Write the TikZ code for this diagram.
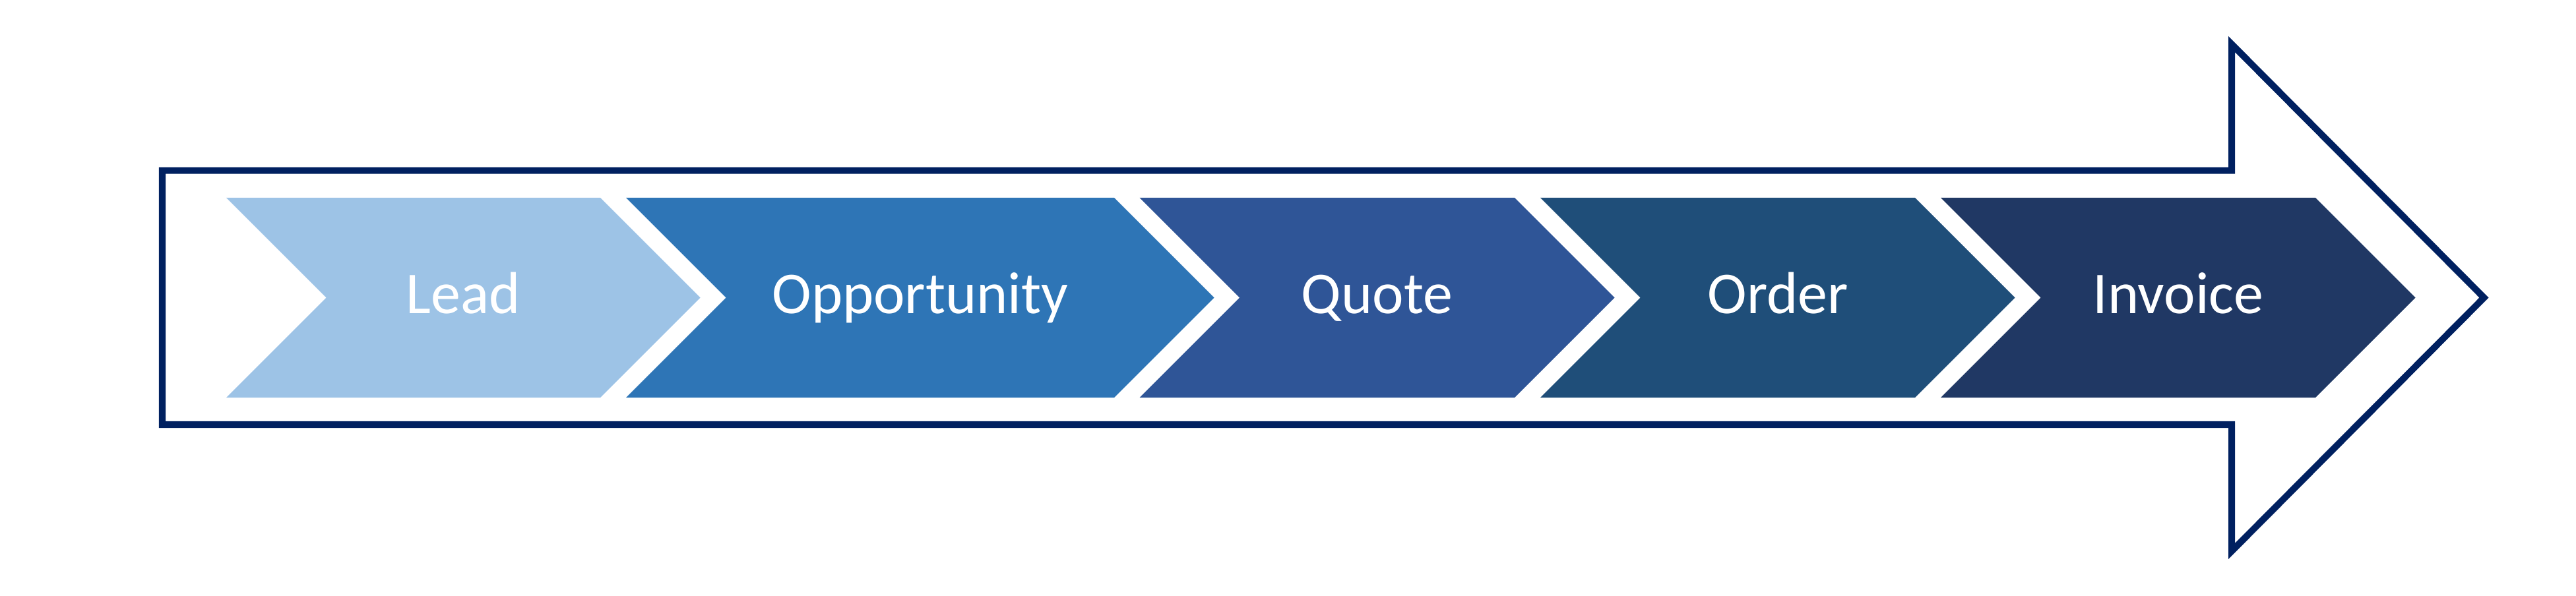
\documentclass[tikz,border=0pt]{standalone}
\usepackage{fontspec}
\setmainfont{Carlito}
\usepackage{tikz}
\usetikzlibrary{backgrounds}

\definecolor{framenavy}{HTML}{002060}
\definecolor{leadblue}{HTML}{9DC3E6}
\definecolor{oppblue}{HTML}{2E75B6}
\definecolor{quoteblue}{HTML}{2F5597}
\definecolor{orderblue}{HTML}{1F4E79}
\definecolor{invoiceblue}{HTML}{203864}

\tikzset{
  stagetext/.style={text=white, anchor=base, inner sep=0pt,
    font=\fontsize{25.6}{31}\selectfont},
  bigarrow/.style={draw=framenavy, line width=2.85pt, miter limit=10}
}

\begin{document}
\begin{tikzpicture}
   \useasboundingbox (0,0) rectangle (39.05,9.03);

   % outer process arrow
   \draw[bigarrow] (2.46,6.443) -- (33.83,6.443) -- (33.83,8.36)
        -- (37.655,4.515) -- (33.83,0.67) -- (33.83,2.59)
        -- (2.46,2.59) -- cycle;

   % stages
   \fill[leadblue] (3.43,6.03) -- (9.10,6.03) -- ++(1.515,-1.515)
        -- (9.10,3.00) -- (3.43,3.00) -- ++(1.515,1.515) -- cycle;
   \node[stagetext] (lead) at (7.02,4.28) {Lead};

   \fill[oppblue] (9.49,6.03) -- (16.89,6.03) -- ++(1.515,-1.515)
        -- (16.89,3.00) -- (9.49,3.00) -- ++(1.515,1.515) -- cycle;
   \node[stagetext] (opp) at (13.95,4.28) {Opportunity};

   \fill[quoteblue] (17.275,6.03) -- (22.96,6.03) -- ++(1.515,-1.515)
        -- (22.96,3.00) -- (17.275,3.00) -- ++(1.515,1.515) -- cycle;
   \node[stagetext] (quote) at (20.875,4.28) {Quote};

   \fill[orderblue] (23.35,6.03) -- (29.03,6.03) -- ++(1.515,-1.515)
        -- (29.03,3.00) -- (23.35,3.00) -- ++(1.515,1.515) -- cycle;
   \node[stagetext] (order) at (26.95,4.28) {Order};

   \fill[invoiceblue] (29.42,6.03) -- (35.10,6.03) -- ++(1.515,-1.515)
        -- (35.10,3.00) -- (29.42,3.00) -- ++(1.515,1.515) -- cycle;
   \node[stagetext] (invoice) at (33.02,4.28) {Invoice};
\end{tikzpicture}
\end{document}
